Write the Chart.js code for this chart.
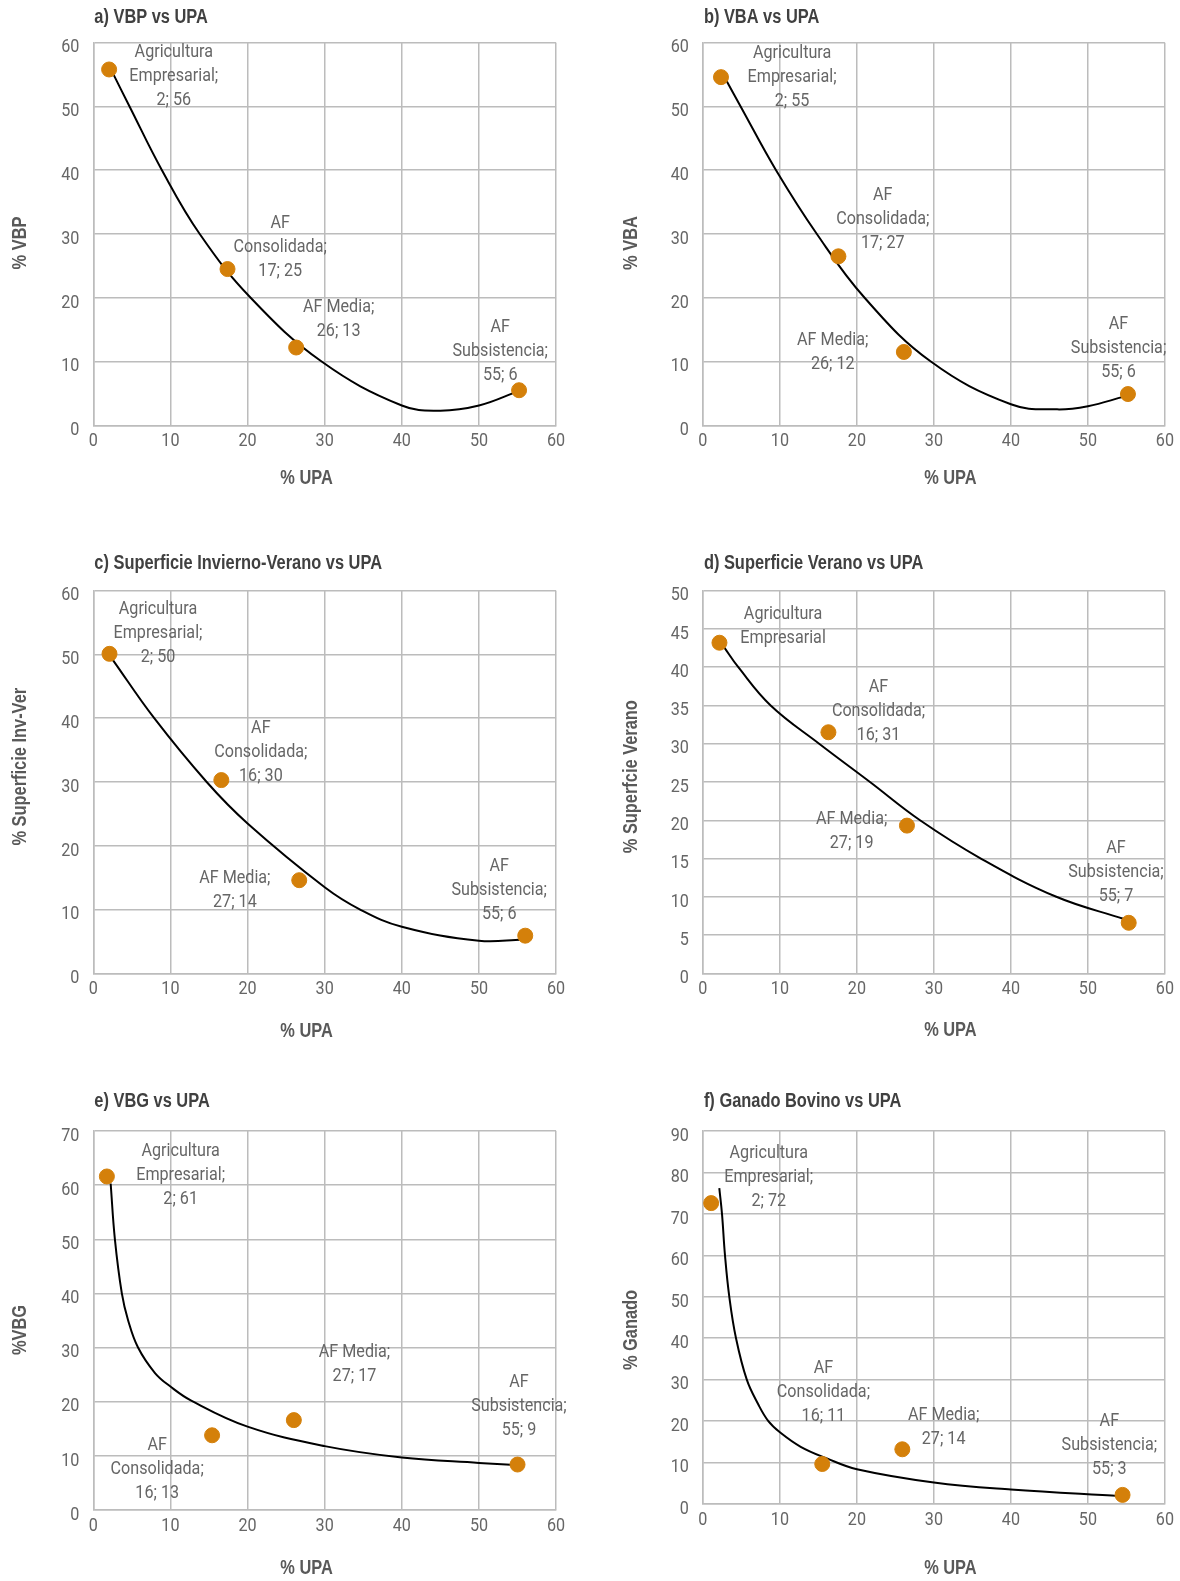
<!DOCTYPE html>
<html>
<head>
<meta charset="utf-8">
<script src="https://cdn.jsdelivr.net/npm/chart.js@4.4.1/dist/chart.umd.min.js"></script>
<style>
  body { margin: 0; background: #fff; width: 1180px; height: 1581px; position: relative; overflow: hidden; }
  canvas { position: absolute; }
</style>
</head>
<body>
<canvas id="a"></canvas>
<canvas id="b"></canvas>
<canvas id="c"></canvas>
<canvas id="d"></canvas>
<canvas id="e"></canvas>
<canvas id="f"></canvas>
<script>
const LIGHT = "19px Roboto, 'Liberation Sans', sans-serif";
const BOLD = "bold 20px 'Liberation Sans', Arial, sans-serif";
const SQUEEZE = 0.85;      // condensed look for the light text
const SQUEEZE_BOLD = 0.82; // condensed look for the bold titles
const DOT = "#d4800a";
const TEXT = "#666666";
const GRID = "#bcbcbc";

const categories = ["Agricultura Empresarial", "AF Consolidada", "AF Media", "AF Subsistencia"];
const xTicks = [0, 10, 20, 30, 40, 50, 60];

// a) VBP vs UPA
const upaA = [2.05, 17.4, 26.3, 55.2];
const vbp = [55.8, 24.5, 12.2, 5.5];
const labelsA = [["Agricultura", "Empresarial;", "2; 56"], ["AF", "Consolidada;", "17; 25"], ["AF Media;", "26; 13"], ["AF", "Subsistencia;", "55; 6"]];
const trendAX = [2.5, 4.7, 8.9, 13.8, 20.4, 29.6, 40, 45, 50, 55.2];
const trendAY = [55.3, 50, 40, 30, 20, 10, 3.1, 2.3, 3.1, 5.4];

// b) VBA vs UPA
const upaB = [2.35, 17.6, 26.1, 55.2];
const vba = [54.6, 26.5, 11.5, 4.9];
const labelsB = [["Agricultura", "Empresarial;", "2; 55"], ["AF", "Consolidada;", "17; 27"], ["AF Media;", "26; 12"], ["AF", "Subsistencia;", "55; 6"]];
const trendBX = [3.08, 4.9, 9.5, 14.8, 21.0, 29.6, 40, 46, 50, 54.7];
const trendBY = [54.0, 50, 40, 30, 20, 10, 3.3, 2.5, 3.0, 4.5];

// c) Superficie Invierno-Verano vs UPA
const upaC = [2.1, 16.6, 26.7, 56.0];
const supInvVer = [50.1, 30.3, 14.6, 5.9];
const labelsC = [["Agricultura", "Empresarial;", "2; 50"], ["AF", "Consolidada;", "16; 30"], ["AF Media;", "27; 14"], ["AF", "Subsistencia;", "55; 6"]];
const trendCX = [2.5, 7.9, 14.7, 20, 30, 34.6, 40, 50, 55.7];
const trendCY = [49.2, 40, 30, 23.5, 13.5, 10, 7.3, 5.1, 5.3];

// d) Superficie Verano vs UPA
const upaD = [2.15, 16.3, 26.5, 55.3];
const supVer = [43.2, 31.5, 19.3, 6.6];
const labelsD = [["Agricultura", "Empresarial"], ["AF", "Consolidada;", "16; 31"], ["AF Media;", "27; 19"], ["AF", "Subsistencia;", "55; 7"]];
const trendDX = [2.7, 4.6, 8.8, 15.1, 21.7, 28.2, 36.1, 45.9, 54.7];
const trendDY = [42.7, 40, 35, 30, 25, 20, 15, 10, 7.1];

// e) VBG vs UPA
const upaE = [1.76, 15.4, 26.0, 55.0];
const vbg = [61.6, 13.8, 16.6, 8.4];
const labelsE = [["Agricultura", "Empresarial;", "2; 61"], ["AF", "Consolidada;", "16; 13"], ["AF Media;", "27; 17"], ["AF", "Subsistencia;", "55; 9"]];
const trendEX = [2.25, 2.8, 3.7, 4.5, 5.8, 8.0, 10, 12.7, 20, 30, 40, 50, 54.7];
const trendEY = [60.3, 50, 40, 35.1, 30, 25.3, 22.8, 20.2, 15.4, 11.8, 9.7, 8.7, 8.3];

// f) Ganado Bovino vs UPA
const upaF = [1.07, 15.5, 25.9, 54.5];
const ganado = [72.6, 9.65, 13.2, 2.2];
const labelsF = [["Agricultura", "Empresarial;", "2; 72"], ["AF", "Consolidada;", "16; 11"], ["AF Media;", "27; 14"], ["AF", "Subsistencia;", "55; 3"]];
const trendFX = [2.13, 2.48, 2.87, 3.43, 4.3, 5.7, 7.2, 8.5, 10, 12.7, 16.1, 20, 30, 40, 54.2];
const trendFY = [76.2, 70, 60, 50, 40, 30, 24, 20, 17.3, 13.8, 11.0, 8.4, 5.2, 3.5, 1.9];

// layout of each panel (canvas-local pixels)
const panels = [
  { id: "a", title: "a) VBP vs UPA", yTitle: "% VBP", x: upaA, y: vbp, labels: labelsA, tx: trendAX, ty: trendAY, yMax: 60, yStep: 10,
    pos: [0, 0, 590, 540], area: [93.3, 42.7, 556.1, 425.3], titleY: 17, xTitlePos: [306.6, 478.3], yTitlePos: [20.7, 243],
    offsets: [[64.7, -17], [52.7, -46.3], [42.5, -40.3], [-18.8, -63]] },
  { id: "b", title: "b) VBA vs UPA", yTitle: "% VBA", x: upaB, y: vba, labels: labelsB, tx: trendBX, ty: trendBY, yMax: 60, yStep: 10,
    pos: [590, 0, 590, 540], area: [112.9, 42.7, 574.9, 425.3], titleY: 17, xTitlePos: [360.4, 478.3], yTitlePos: [41.4, 243],
    offsets: [[71.1, -24.3], [44.4, -61], [-71.1, -11.7], [-9.4, -70.3]] },
  { id: "c", title: "c) Superficie Invierno-Verano vs UPA", yTitle: "% Superficie Inv-Ver", x: upaC, y: supInvVer, labels: labelsC, tx: trendCX, ty: trendCY, yMax: 60, yStep: 10,
    pos: [0, 540, 590, 540], area: [93.3, 50.7, 556.1, 433.3], titleY: 23.3, xTitlePos: [306.6, 491.7], yTitlePos: [20.7, 226.7],
    offsets: [[48.5, -44.7], [39.5, -52], [-64.4, -2.3], [-26, -69.7]] },
  { id: "d", title: "d) Superficie Verano vs UPA", yTitle: "% Superfcie Verano", x: upaD, y: supVer, labels: labelsD, tx: trendDX, ty: trendDY, yMax: 50, yStep: 5,
    pos: [590, 540, 590, 540], area: [112.9, 50.7, 574.9, 433.3], titleY: 23.3, xTitlePos: [360.4, 490], yTitlePos: [41.4, 236.7],
    offsets: [[63.6, -28.7], [50.1, -45], [-55.3, -6.4], [-12.7, -74.4]] },
  { id: "e", title: "e) VBG vs UPA", yTitle: "%VBG", x: upaE, y: vbg, labels: labelsE, tx: trendEX, ty: trendEY, yMax: 70, yStep: 10,
    pos: [0, 1080, 590, 501], area: [93.3, 51, 556.1, 430], titleY: 21.7, xTitlePos: [306.6, 488.3], yTitlePos: [20.7, 250],
    offsets: [[73.8, -25], [-54.9, 9.7], [60.6, -68.3], [1.5, -82.6]] },
  { id: "f", title: "f) Ganado Bovino vs UPA", yTitle: "% Ganado", x: upaF, y: ganado, labels: labelsF, tx: trendFX, ty: trendFY, yMax: 90, yStep: 10,
    pos: [590, 1080, 590, 501], area: [112.9, 51, 574.9, 424], titleY: 21.7, xTitlePos: [360.4, 488.3], yTitlePos: [41.4, 250],
    offsets: [[57.6, -50], [1.2, -95.7], [41.3, -34.3], [-13.2, -73.3]] }
];

const X_AXIS_H = 40;

// fillText squeezed horizontally around its anchor
function condText(ctx, text, x, y, k) {
  ctx.save();
  ctx.translate(x, y);
  ctx.scale(k, 1);
  ctx.fillText(text, 0, 0);
  ctx.restore();
}

function makeChart(p) {
  const canvas = document.getElementById(p.id);
  const [left, top, w, h] = p.pos;
  canvas.width = w;
  canvas.height = h;
  canvas.style.left = left + "px";
  canvas.style.top = top + "px";
  canvas.style.width = w + "px";
  canvas.style.height = h + "px";
  const [aL, aT, aR, aB] = p.area;

  // tick labels, titles and point labels
  const panelText = {
    id: "panelText",
    afterDraw(chart) {
      const ctx = chart.ctx;
      const xs = chart.scales.x;
      const ys = chart.scales.y;
      ctx.save();
      ctx.textBaseline = "middle";

      // tick labels from the scales
      ctx.font = LIGHT;
      ctx.fillStyle = TEXT;
      ctx.textAlign = "center";
      xs.ticks.forEach((t) => condText(ctx, String(t.value), xs.getPixelForValue(t.value), ys.bottom + 16, SQUEEZE));
      ctx.textAlign = "right";
      ys.ticks.forEach((t) => condText(ctx, String(t.value), ys.right - 14, ys.getPixelForValue(t.value) + 5, SQUEEZE));

      // titles
      ctx.font = BOLD;
      ctx.fillStyle = "#404040";
      ctx.textAlign = "left";
      condText(ctx, p.title, chart.chartArea.left + 1, p.titleY, SQUEEZE_BOLD);
      ctx.fillStyle = "#595959";
      ctx.textAlign = "center";
      condText(ctx, "% UPA", p.xTitlePos[0], p.xTitlePos[1], SQUEEZE_BOLD);
      ctx.save();
      ctx.translate(p.yTitlePos[0], p.yTitlePos[1]);
      ctx.rotate(-Math.PI / 2);
      condText(ctx, p.yTitle, 0, 0, SQUEEZE_BOLD);
      ctx.restore();

      // data labels
      ctx.font = LIGHT;
      ctx.fillStyle = TEXT;
      const pts = chart.getDatasetMeta(1).data;
      p.labels.forEach((lines, i) => {
        const [dx, dy] = p.offsets[i];
        lines.forEach((t, j) => condText(ctx, t, pts[i].x + dx, pts[i].y + dy + j * 24, SQUEEZE));
      });
      ctx.restore();
    }
  };

  return new Chart(canvas, {
    type: "scatter",
    data: {
      datasets: [
        {
          label: "Tendencia",
          data: p.tx.map((v, i) => ({ x: v, y: p.ty[i] })),
          showLine: true,
          borderColor: "#000",
          borderWidth: 2,
          pointRadius: 0,
          tension: 0.4,
          order: 2
        },
        {
          label: p.title,
          data: p.x.map((v, i) => ({ x: v, y: p.y[i] })),
          backgroundColor: DOT,
          borderColor: DOT,
          pointRadius: 7.5,
          pointHoverRadius: 7.5,
          order: 1
        }
      ]
    },
    options: {
      responsive: false,
      animation: false,
      devicePixelRatio: 1,
      layout: { padding: { left: 0, top: aT, right: w - aR, bottom: h - aB - X_AXIS_H } },
      plugins: { legend: { display: false }, tooltip: { enabled: false }, title: { display: false } },
      scales: {
        x: {
          type: "linear",
          min: 0,
          max: 60,
          afterFit: (s) => { s.height = X_AXIS_H; },
          afterBuildTicks: (s) => { s.ticks = xTicks.map((v) => ({ value: v })); },
          grid: { color: GRID, lineWidth: 1.5, drawTicks: false },
          border: { color: GRID, width: 1.5 },
          ticks: { display: false }
        },
        y: {
          type: "linear",
          min: 0,
          max: p.yMax,
          afterFit: (s) => { s.width = aL; },
          grid: { color: GRID, lineWidth: 1.5, drawTicks: false },
          border: { color: GRID, width: 1.5 },
          ticks: { display: false, stepSize: p.yStep }
        }
      }
    },
    plugins: [panelText]
  });
}

panels.forEach(makeChart);
</script>
</body>
</html>
